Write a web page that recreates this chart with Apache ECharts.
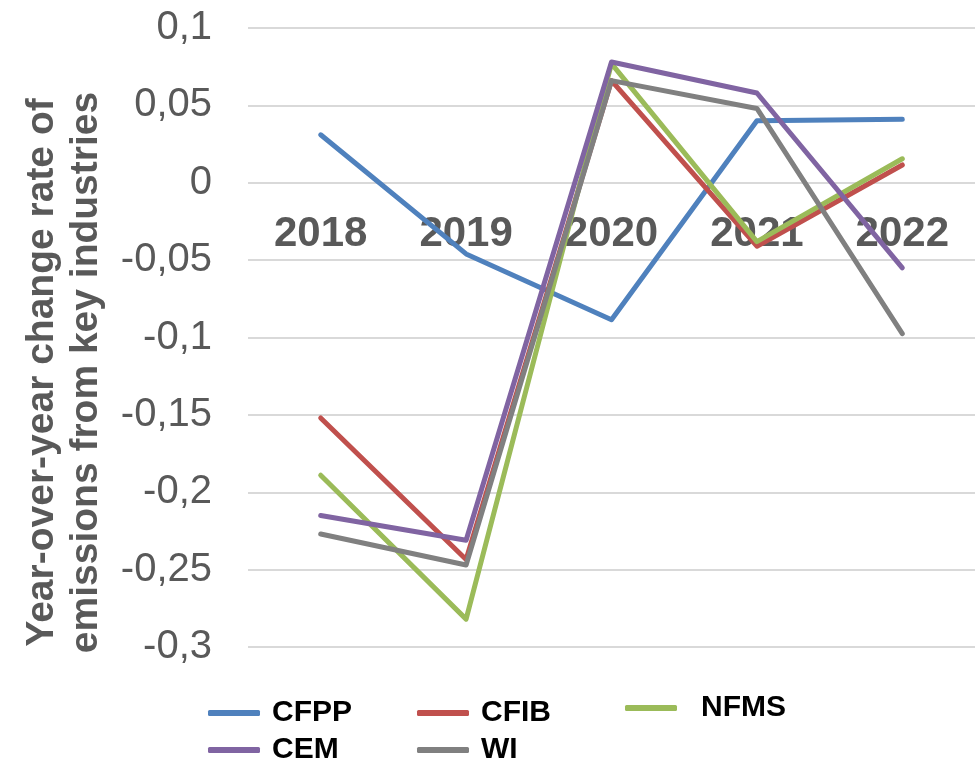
<!DOCTYPE html>
<html>
<head>
<meta charset="utf-8">
<script src="https://cdn.jsdelivr.net/npm/echarts@6/dist/echarts.min.js"></script>
<style>
  html, body { margin: 0; padding: 0; background: #fff; }
  #chart { width: 977px; height: 763px; }
</style>
</head>
<body>
<div id="chart"></div>
<script>
// years on the category axis
const years = ["2018", "2019", "2020", "2021", "2022"];

// year-over-year change rate per industry
const cfpp = [0.031, -0.046, -0.0885, 0.040, 0.041];
const cfib = [-0.152, -0.2435, 0.066, -0.041, 0.0115];
const nfms = [-0.189, -0.282, 0.077, -0.038, 0.0155];
const cem = [-0.215, -0.231, 0.078, 0.058, -0.055];
const wi = [-0.227, -0.247, 0.066, 0.048, -0.0975];

const chart = echarts.init(document.getElementById("chart"));

const FONT = "Liberation Sans, Arial, sans-serif";

const makeSeries = (name, data, color) => ({
  name,
  type: "line",
  data,
  symbol: "none",
  z: 5,
  lineStyle: { width: 5, color, cap: "round", join: "round" },
  itemStyle: { color },
});

const legendAt = (name, left, top, gap) => ({
  data: [name],
  left,
  top,
  itemWidth: 52,
  itemHeight: 6,
  icon: "roundRect",
  textStyle: {
    fontFamily: FONT,
    fontSize: 30,
    fontWeight: "bold",
    color: "#000",
    padding: [0, 0, 0, gap],
  },
});

chart.setOption({
  animation: false,
  grid: { left: 248, right: 2, top: 28, bottom: 116 },
  legend: [
    legendAt("CFPP", 203, 693, 7),
    legendAt("CFIB", 412, 693, 7),
    legendAt("NFMS", 620, 688, 19),
    legendAt("CEM", 203, 730, 7),
    legendAt("WI", 412, 730, 7),
  ],
  xAxis: {
    type: "category",
    data: years,
    boundaryGap: true,
    // the year labels sit just below the zero line, as in the source
    position: "bottom",
    offset: -464,
    z: 0,
    axisLine: { show: false, onZero: false },
    axisTick: { show: false },
    axisLabel: {
      margin: 30,
      fontFamily: FONT,
      fontSize: 42,
      fontWeight: "bold",
      color: "#595959",
    },
  },
  yAxis: {
    type: "value",
    min: -0.3,
    max: 0.1,
    interval: 0.05,
    name: "Year-over-year change rate of\nemissions from key industries",
    nameLocation: "middle",
    nameRotate: 90,
    nameGap: 140,
    nameTextStyle: {
      fontFamily: FONT,
      fontSize: 39,
      fontWeight: "bold",
      color: "#595959",
      lineHeight: 44,
      padding: [0, 70, 0, 0],
    },
    axisLine: { show: false },
    axisTick: { show: false },
    splitLine: { lineStyle: { color: "#d9d9d9", width: 2 } },
    axisLabel: {
      margin: 36,
      fontFamily: FONT,
      fontSize: 40,
      color: "#595959",
      formatter: (v) => String(Math.round(v * 100) / 100).replace(".", ","),
    },
  },
  series: [
    makeSeries("CFPP", cfpp, "#4f81bd"),
    makeSeries("CFIB", cfib, "#c0504d"),
    makeSeries("NFMS", nfms, "#9bbb59"),
    makeSeries("CEM", cem, "#8064a2"),
    makeSeries("WI", wi, "#808080"),
  ],
});
</script>
</body>
</html>
